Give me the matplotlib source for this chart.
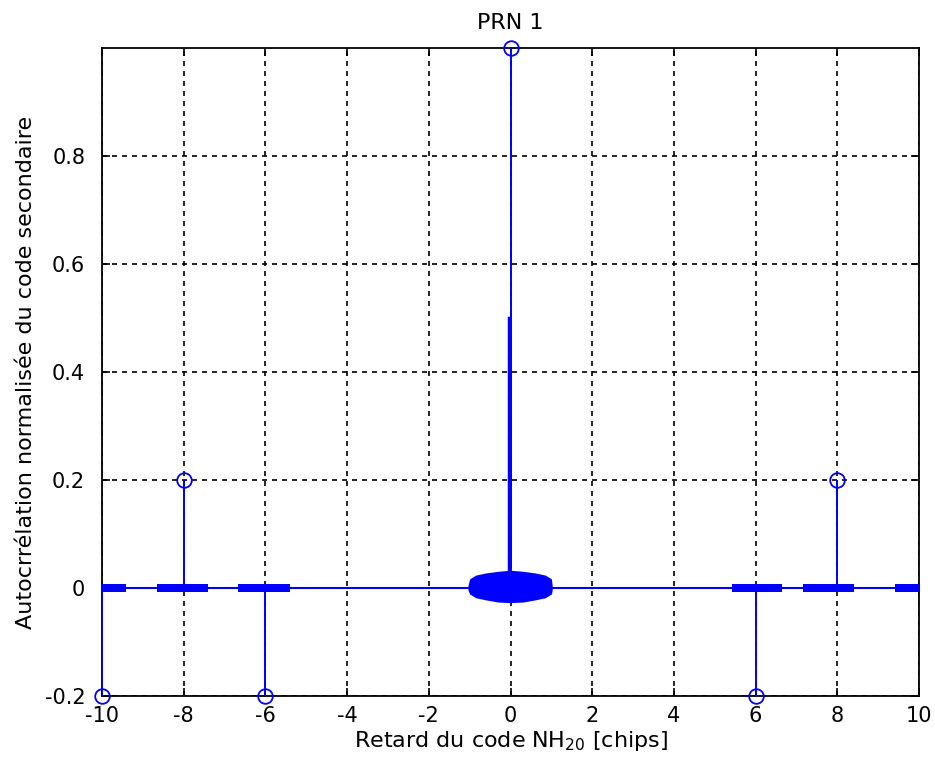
import matplotlib.pyplot as plt
import numpy as np

plt.rcParams['font.family'] = ['DejaVu Sans']

# pics de l'autocorrelation (stems)
stem_x = [-10, -8, -6, 0, 6, 8]
stem_y = [-0.2, 0.2, -0.2, 1.0, -0.2, 0.2]

# enveloppe du lobe central autour de 0
env_x = [-1.04, -1.0, -0.85, -0.6, -0.3, 0.0, 0.3, 0.6, 0.85, 1.0, 1.02]
env_hi = [0.005, 0.017, 0.024, 0.028, 0.031, 0.033, 0.031, 0.028, 0.024, 0.017, 0.005]
env_lo = [-0.004, -0.011, -0.018, -0.022, -0.026, -0.027, -0.026, -0.022, -0.018, -0.011, -0.004]

# bandes laterales (debut, fin, demi-hauteur)
band_start = [-10.0, -8.65, -6.67, 5.42, 7.15, 9.4]
band_end = [-9.4, -7.4, -5.4, 6.65, 8.4, 10.0]
band_h = [0.007, 0.007, 0.007, 0.007, 0.007, 0.007]

# pic etroit au centre
spike_y = 0.5

fig = plt.figure(figsize=(9.35, 7.72), dpi=100)
ax = fig.add_axes([0.109, 0.0984, 0.874, 0.8394])

blue = (0, 0, 1)
ax.plot([-10, 10], [0, 0], color=blue, lw=1.5, zorder=3)
ax.fill_between(env_x, env_lo, env_hi, color=blue, lw=0, zorder=3)
for s, e, h in zip(band_start, band_end, band_h):
    ax.fill_between([s, e], [-h, -h], [h, h], color=blue, lw=0, zorder=3)
ax.plot([-0.03, -0.03], [0, spike_y], color=blue, lw=2.5, zorder=3)

ml, sl, bl = ax.stem(stem_x, stem_y, basefmt=' ')
plt.setp(sl, color=blue, lw=1.4, zorder=4)
plt.setp(ml, color=blue, marker='o', markerfacecolor='none', markersize=10.5, mew=1.3, zorder=5, clip_on=False)

ax.set_xlim(-10, 10)
ax.set_ylim(-0.2, 1.0)
ax.set_xticks(np.arange(-10, 11, 2))
ax.set_yticks([-0.2, 0, 0.2, 0.4, 0.6, 0.8])
ax.set_yticklabels(['-0.2', '0', '0.2', '0.4', '0.6', '0.8'])
ax.set_xticklabels([str(v) for v in range(-10, 11, 2)])
ax.tick_params(direction='in', labelsize=15, top=True, right=True, length=6, width=1.2)
ax.tick_params(axis='x', pad=7)
ax.tick_params(axis='y', pad=12)
ax.grid(True, color='black', linestyle=(0, (3, 3)), lw=1.2)
for sp in ax.spines.values():
    sp.set_linewidth(1.3)

ax.set_title('PRN 1', fontsize=16, pad=14)
ax.set_xlabel('Retard du code NH$_{20}$ [chips]', fontsize=16, labelpad=2)
ax.set_ylabel('Autocrrélation normalisée du code secondaire', fontsize=16, labelpad=6)

fig.savefig('out.png')
